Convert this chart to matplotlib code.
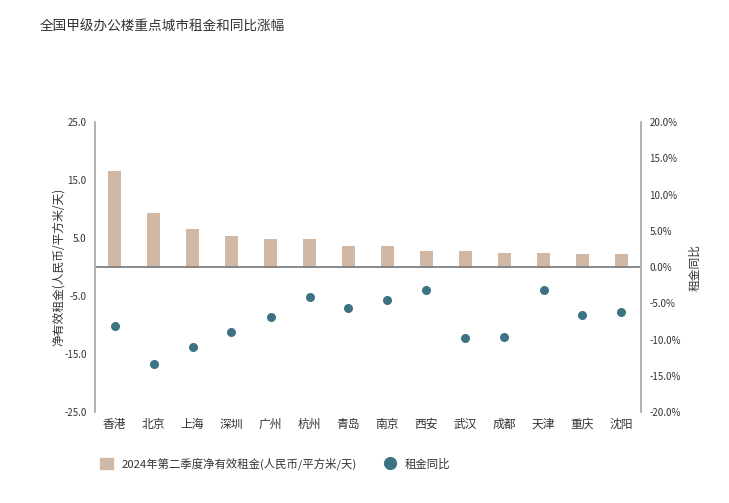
import numpy as np
import matplotlib
matplotlib.use("Agg")
from matplotlib import pyplot as plt
from matplotlib.lines import Line2D
from matplotlib.patches import Patch

plt.rcParams['font.family'] = ['Noto Sans CJK SC', 'DejaVu Sans']

cities = ['香港', '北京', '上海', '深圳', '广州', '杭州', '青岛', '南京', '西安', '武汉', '成都', '天津', '重庆', '沈阳']
rent = [16.6, 9.3, 6.6, 5.3, 4.8, 4.8, 3.6, 3.6, 2.7, 2.7, 2.5, 2.5, 2.3, 2.3]
yoy = [-8.1, -13.4, -11.0, -9.0, -6.9, -4.1, -5.7, -4.6, -3.2, -9.8, -9.7, -3.2, -6.6, -6.2]

left_ticks = [25, 15, 5, -5, -15, -25]
right_ticks = [20, 15, 10, 5, 0, -5, -10, -15, -20]

bar_color = '#d1b8a5'
dot_color = '#3d7284'
axis_color = '#a9b6b8'
text_color = '#333333'

fig = plt.figure(figsize=(7.29, 5.03), dpi=100)
ax = fig.add_axes([95 / 729, 1 - 412 / 503, 546 / 729, 290 / 503])
ax2 = ax.twinx()

x = np.arange(len(cities))
ax.bar(x, rent, width=0.33, color=bar_color, zorder=2)
ax.axhline(0, color='#7f7f7f', lw=1.3, zorder=3)
ax2.scatter(x, yoy, s=30, color=dot_color, zorder=4)

ax.set_xlim(-0.5, len(cities) - 0.5)
ax.set_ylim(-25, 25)
ax2.set_ylim(-20, 20)

ax.set_yticks(left_ticks)
ax.set_yticklabels(['%.1f' % v for v in left_ticks])
ax2.set_yticks(right_ticks)
ax2.set_yticklabels(['%.1f%%' % v for v in right_ticks])
ax.set_xticks(x)
ax.set_xticklabels(cities)

for a in (ax, ax2):
    for s in ('top', 'bottom'):
        a.spines[s].set_visible(False)
    a.spines['left'].set_color(axis_color)
    a.spines['right'].set_color(axis_color)
    a.spines['left'].set_linewidth(1.2)
    a.spines['right'].set_linewidth(1.2)
    a.tick_params(length=0, labelsize=7, colors=text_color)
ax.tick_params(axis='y', pad=6)
ax2.tick_params(axis='y', pad=6)
ax.tick_params(axis='x', labelsize=8.5, pad=4)

ax.set_ylabel('净有效租金(人民币/平方米/天)', fontsize=8.5, color=text_color)
ax.yaxis.set_label_coords(-30 / 546, 0.5)
ax2.set_ylabel('租金同比', fontsize=8.5, color=text_color, rotation=90)
ax2.yaxis.set_label_coords(1 + 47 / 546, 0.5)

fig.text(40 / 729, 1 - 27 / 503, '全国甲级办公楼重点城市租金和同比涨幅', fontsize=9.8,
         color=text_color, va='center')

handles = [Patch(color=bar_color), Line2D([], [], marker='o', ls='', color=dot_color, markersize=8.5)]
labels = ['2024年第二季度净有效租金(人民币/平方米/天)', '租金同比']
fig.legend(handles, labels, loc='center left', bbox_to_anchor=(90 / 729, 1 - 464 / 503),
           ncol=2, frameon=False, fontsize=8.2, columnspacing=2.3, handlelength=1.1,
           handleheight=1.1, handletextpad=0.8, labelcolor=text_color)

fig.savefig('out.png', dpi=100)
